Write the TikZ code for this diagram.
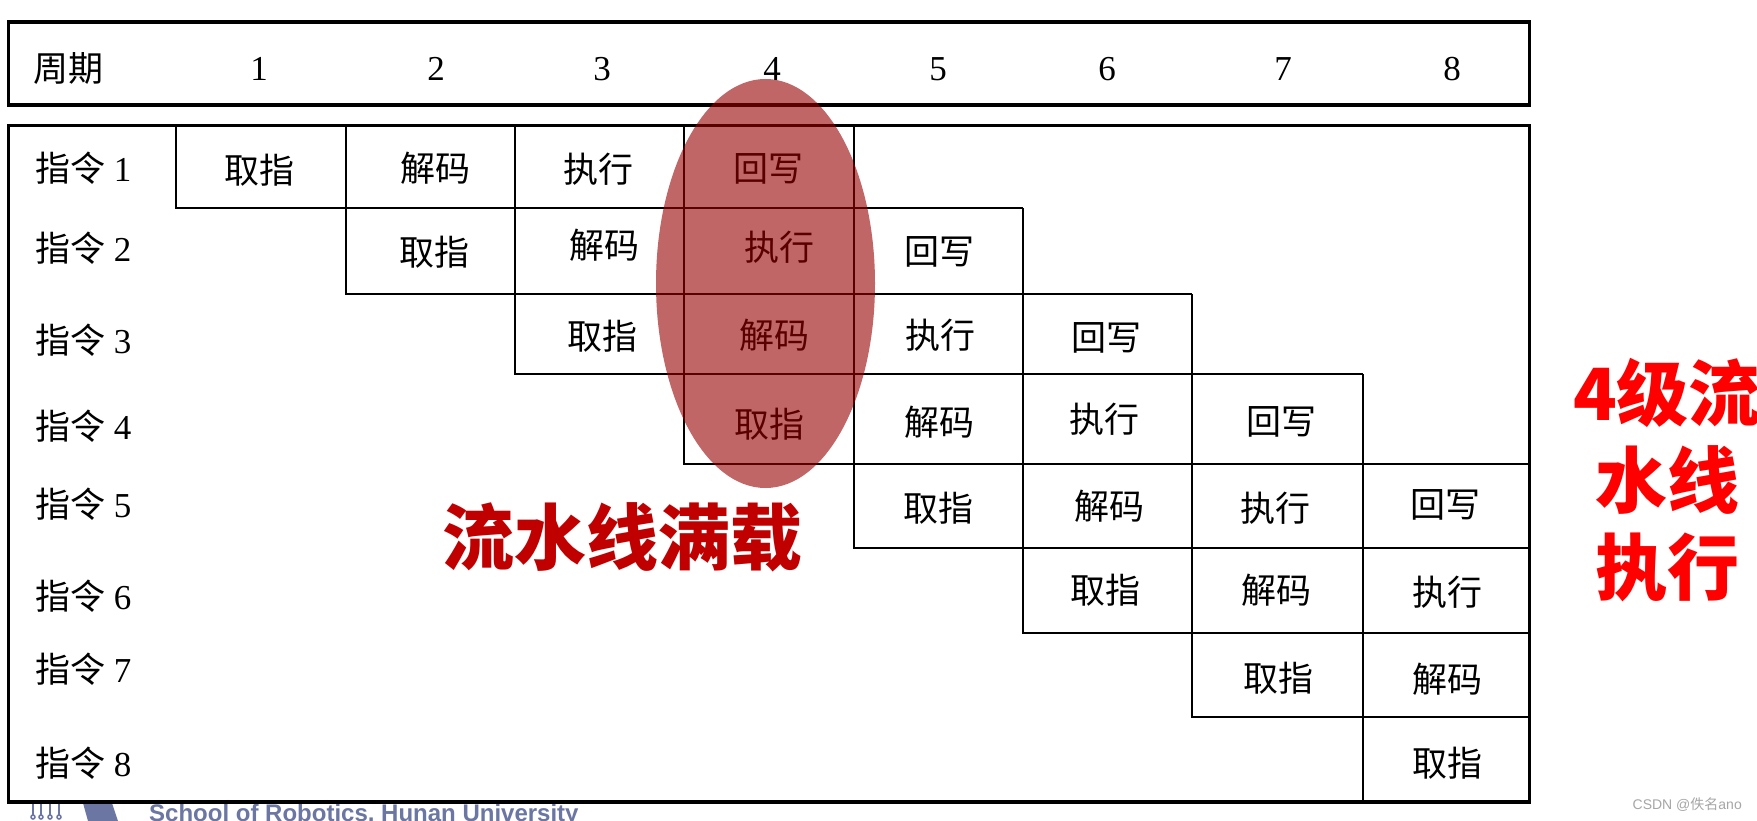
\documentclass[tikz,border=0pt]{standalone}
\usepackage{fontspec}
\setmainfont{Liberation Serif}
\setsansfont{Liberation Sans}
\newfontfamily\cjkFont{Noto Sans CJK SC}
\usepackage{xcolor}
\definecolor{loadRed}{HTML}{960000}
\definecolor{titleRed}{HTML}{C00000}
\definecolor{sideRed}{HTML}{FF0000}
\definecolor{schoolBlue}{HTML}{6B76A3}
\definecolor{markGray}{HTML}{A6A6A6}
\usepackage{tikz}
\usetikzlibrary{shapes.geometric}

\begin{document}
\begin{tikzpicture}[
        x=1pt, y=-1pt,
        outerBox/.style={
            draw=black,
            line width=3.6pt
        },
        gridLine/.style={
            draw=black,
            line width=2pt
        },
        headText/.style={
            inner sep=0pt,
            font=\fontsize{35}{38}\selectfont
        },
        cellText/.style={
            inner sep=0pt,
            font=\cjkFont\fontsize{35}{38}\selectfont
        },
        rowLabel/.style={
            anchor=west,
            inner sep=0pt,
            font=\fontsize{35}{38}\selectfont
        },
        bigNote/.style={
            inner sep=0pt,
            align=center,
            font=\cjkFont\bfseries\fontsize{72}{87}\selectfont
        }
    ]
    \path[use as bounding box, fill=white] (0,0) rectangle (1757,821);

    % Footer left over below the table
    \fill[schoolBlue] (83,803) -- (112,803) -- (118,821) -- (88,821) -- cycle;
    \draw[schoolBlue, line width=2pt] (33,804) -- (33,815) (41,804) -- (41,815) (50,804) -- (50,815) (59,804) -- (59,815);
    \draw[schoolBlue, line width=1.5pt] (33,817) circle (2) (41,817) circle (2) (50,817) circle (2) (59,817) circle (2);
    \node[anchor=base west, inner sep=0pt, text=schoolBlue, font=\sffamily\bfseries\fontsize{24}{26}\selectfont] (school) at (149,821.5) {School of Robotics, Hunan University};

    % Header row
    \draw[outerBox] (8.5,22) rectangle (1529.5,105);
    \node[headText] (cycleHead) at (69,69) {\cjkFont 周期};
    \node[headText] (cycle1) at (259,69) {1};
    \node[headText] (cycle2) at (436,69) {2};
    \node[headText] (cycle3) at (602,69) {3};
    \node[headText] (cycle4) at (772,69) {4};
    \node[headText] (cycle5) at (938,69) {5};
    \node[headText] (cycle6) at (1107,69) {6};
    \node[headText] (cycle7) at (1283,69) {7};
    \node[headText] (cycle8) at (1452,69) {8};

    % Table frame and staircase
    \draw[gridLine] (176,125) -- (176,208) -- (1023,208);
    \draw[gridLine] (346,125) -- (346,294) -- (1192,294);
    \draw[gridLine] (515,125) -- (515,374) -- (1363,374);
    \draw[gridLine] (684,125) -- (684,464) -- (1529,464);
    \draw[gridLine] (854,125) -- (854,548) -- (1529,548);
    \draw[gridLine] (1023,208) -- (1023,633) -- (1529,633);
    \draw[gridLine] (1192,294) -- (1192,717) -- (1529,717);
    \draw[gridLine] (1363,374) -- (1363,802);
    \draw[outerBox] (8.5,125.5) rectangle (1529.5,802);

    % Row labels
    \node[rowLabel] (instr1) at (35,168) {{\cjkFont 指令} 1};
    \node[rowLabel] (instr2) at (35,248) {{\cjkFont 指令} 2};
    \node[rowLabel] (instr3) at (35,340) {{\cjkFont 指令} 3};
    \node[rowLabel] (instr4) at (35,426) {{\cjkFont 指令} 4};
    \node[rowLabel] (instr5) at (35,504) {{\cjkFont 指令} 5};
    \node[rowLabel] (instr6) at (35,596) {{\cjkFont 指令} 6};
    \node[rowLabel] (instr7) at (35,669) {{\cjkFont 指令} 7};
    \node[rowLabel] (instr8) at (35,763) {{\cjkFont 指令} 8};

    % Stages of every instruction
    \node[cellText] (fetch1) at (259,170) {取指};
    \node[cellText] (decode1) at (435,168) {解码};
    \node[cellText] (exec1) at (598,169) {执行};
    \node[cellText] (write1) at (768,169) {回写};

    \node[cellText] (fetch2) at (434,252) {取指};
    \node[cellText] (decode2) at (604,245) {解码};
    \node[cellText] (exec2) at (779,247) {执行};
    \node[cellText] (write2) at (939,252) {回写};

    \node[cellText] (fetch3) at (602,336) {取指};
    \node[cellText] (decode3) at (774,335) {解码};
    \node[cellText] (exec3) at (940,335) {执行};
    \node[cellText] (write3) at (1106,338) {回写};

    \node[cellText] (fetch4) at (769,424) {取指};
    \node[cellText] (decode4) at (939,422) {解码};
    \node[cellText] (exec4) at (1104,419) {执行};
    \node[cellText] (write4) at (1281,422) {回写};

    \node[cellText] (fetch5) at (938,508) {取指};
    \node[cellText] (decode5) at (1109,506) {解码};
    \node[cellText] (exec5) at (1275,508) {执行};
    \node[cellText] (write5) at (1445,505) {回写};

    \node[cellText] (fetch6) at (1105,590) {取指};
    \node[cellText] (decode6) at (1276,590) {解码};
    \node[cellText] (exec6) at (1447,592) {执行};

    \node[cellText] (fetch7) at (1278,678) {取指};
    \node[cellText] (decode7) at (1447,679) {解码};

    \node[cellText] (fetch8) at (1447,763) {取指};

    % Overlay on cycle 4
    \node[draw=none, fill=loadRed, fill opacity=0.6, ellipse, inner sep=0pt, minimum width=219pt, minimum height=409pt] (fullLoad) at (765.5,283.5) {};

    \node[bigNote, text=titleRed] (fullNote) at (622,537) {流水线满载};
    \node[bigNote, text=sideRed] (sideNote) at (1667,480) {4级流\\水线\\执行};

    \node[anchor=east, inner sep=0pt, text=markGray, font=\sffamily\fontsize{14}{16}\selectfont] (watermark) at (1742,805) {CSDN @{\cjkFont 佚名}ano};
\end{tikzpicture}
\end{document}
